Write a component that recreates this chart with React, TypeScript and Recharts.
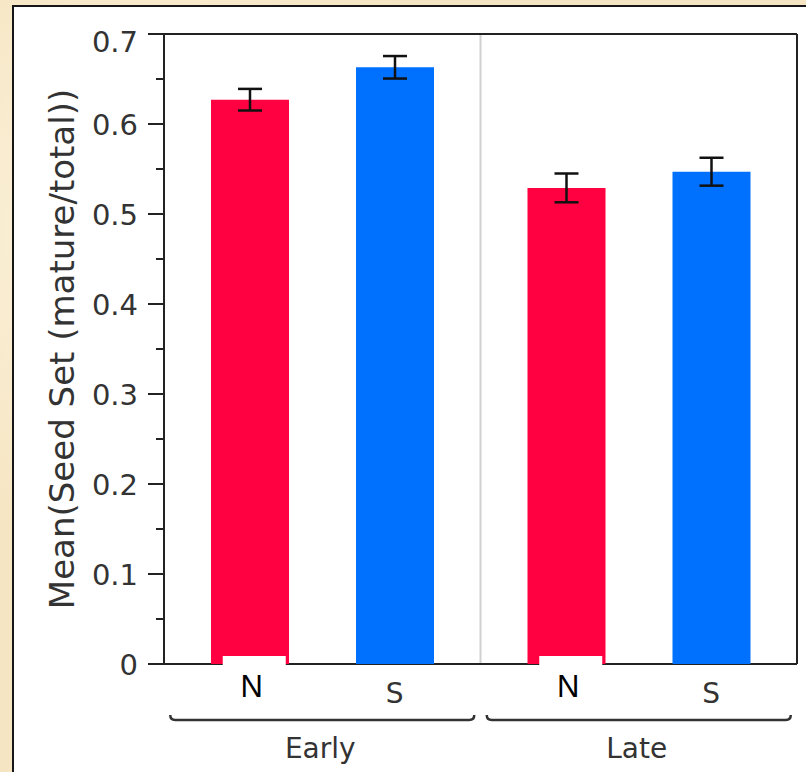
import React from "react";
import {
  BarChart,
  Bar,
  XAxis,
  YAxis,
  CartesianGrid,
  ErrorBar,
} from "recharts";

// values
const periods = ["Early", "Late"];
const seriesNames = ["N", "S"];
const nMeans = [0.627, 0.529];
const sMeans = [0.663, 0.547];
const nErrors = [0.012, 0.016];
const sErrors = [0.0125, 0.0155];
const majorTicks = [0, 0.1, 0.2, 0.3, 0.4, 0.5, 0.6, 0.7];
const minorTicks = [0.05, 0.15, 0.25, 0.35, 0.45, 0.55, 0.65];
const yTitle = "Mean(Seed Set (mature/total))";

const data = periods.map((p, i) => ({
  period: p,
  N: nMeans[i],
  S: sMeans[i],
  nErr: nErrors[i],
  sErr: sErrors[i],
}));

const allTicks = [...majorTicks, ...minorTicks].sort((a, b) => a - b);

const BAR_SIZE = 78;
const BAR_GAP = 67;
const HALF = (BAR_SIZE + BAR_GAP) / 2;
const FONT = "'DejaVu Sans', sans-serif";
const TEXT = "#333";
const AXIS = "#222";

const ValueTick = (props: any) => {
  const { x, y, payload } = props;
  const v = payload.value;
  const major = majorTicks.some((t) => Math.abs(t - v) < 1e-6);
  const top = Math.abs(v - 0.7) < 1e-6;
  return (
    <g>
      <line
        x1={x - (major ? 16 : 8)}
        x2={x}
        y1={y}
        y2={y}
        stroke={AXIS}
        strokeWidth={2}
      />
      {major && (
        <text
          x={x - 26}
          y={y + (top ? 18 : 11)}
          textAnchor="end"
          fontFamily={FONT}
          fontSize={29}
          fill={TEXT}
        >
          {v === 0 ? "0" : v.toFixed(1)}
        </text>
      )}
    </g>
  );
};

const PeriodTick = (props: any) => {
  const { x, y, payload } = props;
  const nx = x - HALF;
  const sx = x + HALF;
  const bw = 152;
  return (
    <g>
      <rect x={nx - 27} y={y - 8} width={63} height={44} fill="#fff" />
      <text
        x={nx + 2}
        y={y + 33}
        textAnchor="middle"
        fontFamily="'Liberation Sans', Arial, sans-serif"
        fontSize={31}
        fill="#000"
      >
        {seriesNames[0]}
      </text>
      <text
        x={sx}
        y={y + 39}
        textAnchor="middle"
        fontFamily={FONT}
        fontSize={28}
        fill={TEXT}
      >
        {seriesNames[1]}
      </text>
      <path
        d={`M${x - bw},${y + 51} Q${x - bw},${y + 56} ${x - bw + 5},${y + 56} L${x + bw - 5},${y + 56} Q${x + bw},${y + 56} ${x + bw},${y + 51}`}
        fill="none"
        stroke={TEXT}
        strokeWidth={2.5}
      />
      <text
        x={x - 2}
        y={y + 94}
        textAnchor="middle"
        fontFamily={FONT}
        fontSize={28}
        fill={TEXT}
      >
        {payload.value}
      </text>
    </g>
  );
};

const AxisTitle = (props: any) => {
  const vb = props.viewBox || { x: 0, y: 34, width: 164, height: 630 };
  const tx = vb.x + 74;
  const ty = vb.y + vb.height / 2;
  return (
    <text
      x={tx}
      y={ty}
      transform={`rotate(-90, ${tx}, ${ty})`}
      textAnchor="middle"
      fontFamily={FONT}
      fontSize={34}
      fill={TEXT}
    >
      {yTitle}
    </text>
  );
};

const parchment =
  "radial-gradient(circle at 20% 30%, rgba(255,250,235,0.7), transparent 40%)," +
  "radial-gradient(circle at 80% 70%, rgba(240,215,165,0.6), transparent 45%)," +
  "radial-gradient(circle at 50% 95%, rgba(255,248,228,0.6), transparent 35%)," +
  "#f6e5c2";

export default function App() {
  return (
    <div
      style={{
        position: "fixed",
        left: 0,
        top: 0,
        width: 806,
        height: 772,
        overflow: "hidden",
        background: parchment,
      }}
    >
      <div
        style={{
          position: "absolute",
          left: 12,
          top: 5,
          width: 820,
          height: 800,
          background: "#fff",
          border: "2px solid #161616",
        }}
      />
      <div style={{ position: "absolute", left: 0, top: 0 }}>
        <BarChart
          width={806}
          height={772}
          data={data}
          margin={{ top: 34, right: 9, bottom: 0, left: 0 }}
          barSize={BAR_SIZE}
          barGap={BAR_GAP}
        >
          {/* gray divider between the two periods */}
          <CartesianGrid
            horizontal={false}
            verticalCoordinatesGenerator={({ offset }: any) => [
              offset.left + offset.width / 2,
            ]}
            stroke="#d0d0d0"
            strokeWidth={2}
          />
          {/* plot frame: top, bottom and right edges */}
          <CartesianGrid
            horizontalCoordinatesGenerator={({ offset }: any) => [
              offset.top,
              offset.top + offset.height,
            ]}
            verticalCoordinatesGenerator={({ offset }: any) => [
              offset.left + offset.width,
            ]}
            stroke={AXIS}
            strokeWidth={2}
          />
          <XAxis
            dataKey="period"
            height={108}
            tickLine={false}
            tickSize={0}
            tickMargin={0}
            axisLine={false}
            tick={<PeriodTick />}
            interval={0}
          />
          <YAxis
            type="number"
            domain={[0, 0.7]}
            ticks={allTicks}
            interval={0}
            width={164}
            tickLine={false}
            tickSize={0}
            tickMargin={0}
            axisLine={{ stroke: AXIS, strokeWidth: 2 }}
            tick={<ValueTick />}
            label={<AxisTitle />}
          />
          <Bar dataKey="N" fill="#ff0040" isAnimationActive={false}>
            <ErrorBar
              dataKey="nErr"
              width={12}
              stroke="#111"
              strokeWidth={2.5}
              direction="y"
            />
          </Bar>
          <Bar dataKey="S" fill="#0070ff" isAnimationActive={false}>
            <ErrorBar
              dataKey="sErr"
              width={12}
              stroke="#111"
              strokeWidth={2.5}
              direction="y"
            />
          </Bar>
        </BarChart>
      </div>
    </div>
  );
}
